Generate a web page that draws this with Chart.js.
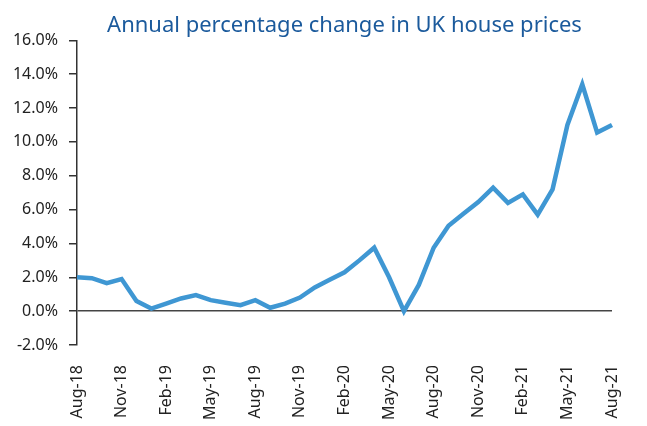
<!DOCTYPE html>
<html>
<head>
<meta charset="utf-8">
<script src="https://cdn.jsdelivr.net/npm/chart.js@4"></script>
<style>
  body { margin: 0; background: #fff; }
  #wrap { width: 647px; height: 426px; position: relative; }
</style>
</head>
<body>
<div id="wrap"><canvas id="chart"></canvas></div>
<script>
// months Aug-18 .. Aug-21
const months = [
  "Aug-18", "Sep-18", "Oct-18", "Nov-18", "Dec-18", "Jan-19", "Feb-19", "Mar-19", "Apr-19",
  "May-19", "Jun-19", "Jul-19", "Aug-19", "Sep-19", "Oct-19", "Nov-19", "Dec-19", "Jan-20",
  "Feb-20", "Mar-20", "Apr-20", "May-20", "Jun-20", "Jul-20", "Aug-20", "Sep-20", "Oct-20",
  "Nov-20", "Dec-20", "Jan-21", "Feb-21", "Mar-21", "Apr-21", "May-21", "Jun-21", "Jul-21", "Aug-21"
];

// annual % change
const priceChange = [
  2.0, 1.95, 1.65, 1.9, 0.6, 0.15, 0.45, 0.75, 0.95,
  0.65, 0.5, 0.35, 0.65, 0.2, 0.45, 0.8, 1.4, 1.85,
  2.3, 3.0, 3.75, 2.0, 0.0, 1.55, 3.75, 5.05, 5.75,
  6.45, 7.3, 6.4, 6.9, 5.7, 7.2, 11.0, 13.4, 10.55, 11.0
];

const shownLabels = ["Aug-18", "Nov-18", "Feb-19", "May-19", "Aug-19", "Nov-19", "Feb-20",
  "May-20", "Aug-20", "Nov-20", "Feb-21", "May-21", "Aug-21"];

const tickFont = { family: "'Noto Sans', sans-serif", size: 16 };

let config = {
  type: 'line',
  data: {
    labels: months,
    datasets: [{
      data: priceChange,
      borderColor: '#3f97d3',
      borderWidth: 4.5,
      pointRadius: 0,
      tension: 0,
      borderJoinStyle: 'miter'
    }]
  },
  options: {
    responsive: true,
    maintainAspectRatio: false,
    animation: false,
    layout: { padding: { left: 0, right: 35, top: 0, bottom: 0 } },
    plugins: {
      legend: { display: false },
      tooltip: { enabled: false },
      title: {
        display: true,
        fullSize: false,
        text: 'Annual percentage change in UK house prices',
        color: '#1b5a9c',
        font: { family: "'Noto Sans', sans-serif", size: 22, weight: 'normal' },
        padding: { top: 13, bottom: 1 },
        align: 'center'
      }
    },
    scales: {
      x: {
        offset: false,
        grid: { display: false },
        border: { display: false },
        afterFit: s => { s.height = 81; },
        ticks: {
          autoSkip: false,
          minRotation: 90,
          maxRotation: 90,
          color: '#222',
          font: tickFont,
          padding: 12,
          callback: function (value) {
            const lab = this.getLabelForValue(value);
            return shownLabels.includes(lab) ? lab : '';
          }
        }
      },
      y: {
        min: -2,
        max: 16,
        afterFit: s => { s.width = 77; },
        grid: {
          color: ctx => ctx.tick && ctx.tick.value === 0 ? '#444' : 'transparent',
          tickColor: '#333',
          tickLength: 8,
          lineWidth: 1.5
        },
        border: { display: true, color: '#333', width: 1.5 },
        ticks: {
          stepSize: 2,
          color: '#222',
          font: tickFont,
          padding: 11,
          callback: v => v.toFixed(1) + '%'
        }
      }
    }
  }
};

chart = new Chart(document.getElementById('chart'), config);
</script>
</body>
</html>
